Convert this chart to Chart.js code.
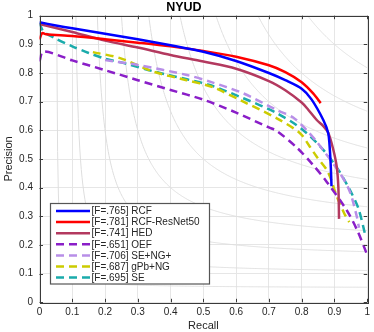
<!DOCTYPE html>
<html><head><meta charset="utf-8">
<script src="https://cdn.jsdelivr.net/npm/chart.js@4/dist/chart.umd.min.js"></script>
<style>html,body{margin:0;padding:0;background:#fff}#wrap{width:374px;height:332px}</style>
</head><body><div id="wrap"><canvas id="c"></canvas></div>
<script>
const seriesNames = ['[F=.765] RCF','[F=.781] RCF-ResNet50','[F=.741] HED','[F=.651] OEF','[F=.706] SE+NG+','[F=.687] gPb+NG','[F=.695] SE'];
const rcfRecall = [0,0.05,0.1,0.2,0.3,0.4,0.5,0.6,0.7,0.75,0.8,0.83,0.866,0.881,0.886,0.889,0.891];
const rcfPrec   = [0.977,0.966,0.956,0.937,0.918,0.897,0.874,0.842,0.800,0.775,0.745,0.708,0.636,0.590,0.532,0.47,0.405];
const resRecall = [0,0.008,0.02,0.1,0.2,0.3,0.4,0.5,0.6,0.7,0.75,0.8,0.835,0.858];
const resPrec   = [0.917,0.939,0.935,0.929,0.918,0.906,0.893,0.877,0.857,0.827,0.803,0.768,0.729,0.695];
const hedRecall = [0,0.1,0.2,0.3,0.4,0.5,0.6,0.7,0.75,0.8,0.82,0.846,0.866,0.881,0.896,0.907,0.912,0.914];
const hedPrec   = [0.971,0.943,0.913,0.889,0.863,0.840,0.815,0.772,0.740,0.697,0.672,0.636,0.615,0.592,0.535,0.473,0.40,0.291];
const oefRecall = [0,0.012,0.1,0.2,0.3,0.4,0.5,0.6,0.7,0.724,0.785,0.835,0.876,0.937,0.97,1.0];
const oefPrec   = [0.84,0.875,0.844,0.81,0.775,0.741,0.707,0.662,0.61,0.598,0.54,0.479,0.421,0.322,0.25,0.165];
const sengRecall = [0.2,0.3,0.45,0.52,0.622,0.724,0.774,0.815,0.846,0.917,0.947,0.968,0.975];
const sengPrec   = [0.845,0.828,0.793,0.770,0.729,0.671,0.645,0.601,0.56,0.45,0.386,0.30,0.26];
const gpbRecall = [0.163,0.246,0.347,0.449,0.53,0.622,0.724,0.795,0.825,0.846,0.88,0.907,0.93,0.945];
const gpbPrec   = [0.873,0.852,0.805,0.775,0.75,0.70,0.642,0.59,0.543,0.508,0.455,0.37,0.31,0.28];
const seRecall = [0,0.012,0.05,0.1,0.15,0.2,0.26,0.35,0.45,0.52,0.622,0.724,0.8,0.866,0.912,0.947,0.973,0.993];
const sePrec   = [0.975,0.945,0.92,0.893,0.87,0.85,0.834,0.805,0.778,0.758,0.712,0.66,0.605,0.532,0.462,0.392,0.328,0.24];
const xTickLabels = ['0','0.1','0.2','0.3','0.4','0.5','0.6','0.7','0.8','0.9','1'];
const yTickLabels = ['0','0.1','0.2','0.3','0.4','0.5','0.6','0.7','0.8','0.9','1'];
const isoF = [0.1,0.2,0.3,0.4,0.5,0.6,0.7,0.8,0.9];

const colors = ['#0000ff','#ff0000','#b3395f','#8a1ec8','#b88ee8','#cccc00','#1aabab'];
const dashes = [[],[],[],[8,5],[8,5],[8,5],[8,5]];
const xs = [rcfRecall,resRecall,hedRecall,oefRecall,sengRecall,gpbRecall,seRecall];
const ys = [rcfPrec,resPrec,hedPrec,oefPrec,sengPrec,gpbPrec,sePrec];
const FONT = 'Liberation Sans, Arial, sans-serif';
const TXT = '#262626';

const datasets = seriesNames.map((n,i)=>({
  label:n,
  data: xs[i].map((x,j)=>({x:x,y:ys[i][j]})),
  borderColor: colors[i], backgroundColor: colors[i],
  borderWidth: 2.5, borderDash: dashes[i], pointRadius:0, tension:0.3, fill:false,
  borderCapStyle:'butt'
}));

const isoPlugin = {
  id:'iso',
  beforeDatasetsDraw(chart){
    const {ctx, chartArea:a, scales:{x,y}} = chart;
    ctx.save();
    ctx.beginPath(); ctx.rect(a.left,a.top,a.right-a.left,a.bottom-a.top); ctx.clip();
    ctx.strokeStyle='#dedede'; ctx.lineWidth=1;
    isoF.forEach(F=>{
      ctx.beginPath();
      let started=false;
      for(let k=0;k<=400;k++){
        const r = F/2 + 0.0005 + (1-F/2-0.0005)*k/400;
        const p = F*r/(2*r-F);
        if(p>1.2) continue;
        const px=x.getPixelForValue(r), py=y.getPixelForValue(Math.min(p,1.2));
        if(!started){ctx.moveTo(px,py);started=true;} else ctx.lineTo(px,py);
      }
      ctx.stroke();
    });
    ctx.restore();
  },
  afterDatasetsDraw(chart){
    const {ctx, chartArea:a, scales:{x,y}} = chart;
    ctx.save();
    ctx.strokeStyle='#3a3a3a'; ctx.lineWidth=1;
    ctx.strokeRect(Math.round(a.left)+0.5, Math.round(a.top)+0.5, Math.round(a.right-a.left), Math.round(a.bottom-a.top));
    ctx.beginPath();
    for(let i=0;i<=10;i++){
      const px=Math.round(x.getPixelForValue(i/10))+0.5;
      ctx.moveTo(px,a.bottom); ctx.lineTo(px,a.bottom-3.5);
      ctx.moveTo(px,a.top); ctx.lineTo(px,a.top+3.5);
      const py=Math.round(y.getPixelForValue(i/10))+0.5;
      ctx.moveTo(a.left,py); ctx.lineTo(a.left+3.5,py);
      ctx.moveTo(a.right,py); ctx.lineTo(a.right-3.5,py);
    }
    ctx.stroke();
    // legend
    const L=50.5, T=203.5, W=159, H=80.5;
    ctx.fillStyle='#fff'; ctx.fillRect(L,T,W,H);
    ctx.strokeStyle='#555'; ctx.lineWidth=1.2; ctx.strokeRect(L,T,W,H);
    ctx.font='10px '+FONT; ctx.textBaseline='middle'; ctx.textAlign='left';
    chart.data.datasets.forEach((d,i)=>{
      const cy = 211 + i*11.1;
      ctx.strokeStyle=d.borderColor; ctx.lineWidth=2.5; ctx.setLineDash(d.borderDash);
      ctx.beginPath(); ctx.moveTo(56,cy); ctx.lineTo(90,cy); ctx.stroke();
      ctx.setLineDash([]);
      ctx.fillStyle=TXT; ctx.fillText(d.label, 91.5, cy+0.5);
    });
    ctx.restore();
  }
};

new Chart(document.getElementById('c'),{
  type:'line',
  data:{datasets},
  options:{
    responsive:true, maintainAspectRatio:false, animation:false,
    layout:{padding:{left:0,right:6.3,top:0,bottom:0}},
    plugins:{
      legend:{display:false}, tooltip:{enabled:false},
      title:{display:true,text:'NYUD',color:'#000',font:{family:FONT,size:12.5,weight:'bold',lineHeight:1.2},padding:{top:0,bottom:0.7}}
    },
    scales:{
      x:{type:'linear',min:0,max:1,
        afterFit(s){s.height=29.7;},
        ticks:{stepSize:0.1,autoSkip:false,maxRotation:0,padding:4,color:TXT,font:{family:FONT,size:10},
          callback:(v,i)=>xTickLabels[i]},
        grid:{color:'#e6e6e6',drawTicks:false,lineWidth:1},
        border:{display:false},
        title:{display:true,text:'Recall',color:TXT,font:{family:FONT,size:11,lineHeight:1},padding:{top:0,bottom:0.8}}
      },
      y:{type:'linear',min:0,max:1,
        afterFit(s){s.width=39.5;},
        ticks:{stepSize:0.1,autoSkip:false,padding:6.5,color:TXT,font:{family:FONT,size:10},
          callback:(v,i)=>yTickLabels[i]},
        grid:{color:'#e6e6e6',drawTicks:false,lineWidth:1},
        border:{display:false},
        title:{display:true,text:'Precision',color:TXT,font:{family:FONT,size:11,lineHeight:1},padding:{top:3.5,bottom:0}}
      }
    }
  },
  plugins:[isoPlugin]
});
</script></body></html>
